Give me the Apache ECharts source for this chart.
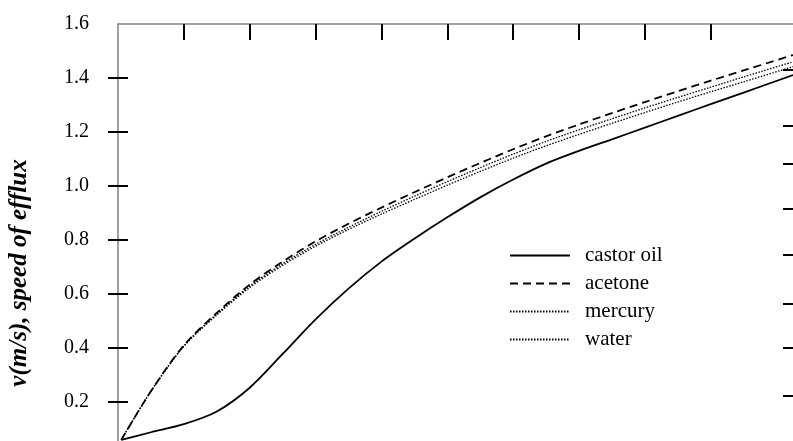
<!DOCTYPE html>
<html>
<head>
<meta charset="utf-8">
<script src="https://cdn.jsdelivr.net/npm/echarts@6/dist/echarts.min.js"></script>
<style>
  html, body { margin: 0; padding: 0; background: #fff; }
  #chart { width: 793px; height: 441px; }
</style>
</head>
<body>
<div id="chart"></div>
<script>
// x position (arbitrary units, top axis ticks at 1..9)
var xs = [0.05, 0.5, 1, 1.5, 2, 2.5, 3, 3.5, 4, 4.5, 5, 5.5, 6, 6.5, 7, 7.5, 8, 8.5, 9, 9.5, 10.25];

var castorOil = [0.06, 0.088, 0.118, 0.165, 0.253, 0.378, 0.506, 0.62, 0.72, 0.805, 0.884, 0.958, 1.024, 1.083, 1.130, 1.173, 1.216, 1.26, 1.303, 1.346, 1.411];
var acetone   = [0.06, 0.24, 0.41, 0.53, 0.635, 0.72, 0.795, 0.86, 0.92, 0.977, 1.032, 1.085, 1.136, 1.184, 1.228, 1.270, 1.311, 1.351, 1.390, 1.428, 1.485];
var mercury   = [0.06, 0.24, 0.408, 0.526, 0.629, 0.712, 0.784, 0.847, 0.906, 0.962, 1.016, 1.068, 1.118, 1.165, 1.208, 1.249, 1.289, 1.328, 1.366, 1.404, 1.460];
var water     = [0.06, 0.24, 0.406, 0.522, 0.624, 0.706, 0.777, 0.839, 0.896, 0.950, 1.003, 1.054, 1.103, 1.149, 1.191, 1.232, 1.272, 1.311, 1.349, 1.386, 1.442];

var seriesNames = ['castor oil', 'acetone', 'mercury', 'water'];
var yTicks = [0.2, 0.4, 0.6, 0.8, 1.0, 1.2, 1.4];
var yLabels = [0.2, 0.4, 0.6, 0.8, 1.0, 1.2, 1.4, 1.6];
var topTicks = [1, 2, 3, 4, 5, 6, 7, 8, 9];
var rightTicks = [0.223, 0.401, 0.564, 0.747, 0.915, 1.084, 1.223, 1.432];
// the picture is cut off a little above v = 0
var yMin = 0.0556, yMax = 1.6;

function pairs(ys) {
  return xs.map(function (x, i) { return [x, ys[i]]; });
}

var serif = '"Liberation Serif", "Times New Roman", serif';
var chart = echarts.init(document.getElementById('chart'));

chart.setOption({
  animation: false,
  backgroundColor: '#fff',
  grid: { left: 118, right: 0, top: 24, bottom: 0 },
  xAxis: {
    type: 'value',
    position: 'top',
    min: 0,
    max: 10.25,
    axisLine: { show: true, onZero: false, lineStyle: { color: '#808080', width: 1.5 } },
    axisTick: { show: true, inside: true, length: 16, customValues: topTicks, lineStyle: { color: '#000', width: 2 } },
    axisLabel: { show: false },
    splitLine: { show: false }
  },
  yAxis: [
    {
      type: 'value',
      position: 'left',
      min: yMin,
      max: yMax,
      axisLine: { show: true, onZero: false, lineStyle: { color: '#808080', width: 1.5 } },
      axisTick: { show: true, inside: false, length: 10, customValues: yTicks, lineStyle: { color: '#000', width: 2 } },
      axisLabel: {
        show: true, margin: 29, customValues: yLabels,
        fontFamily: serif, fontSize: 20, color: '#000',
        formatter: function (v) { return v.toFixed(1); }
      },
      splitLine: { show: false }
    },
    {
      type: 'value',
      position: 'left',
      min: yMin,
      max: yMax,
      axisLine: { show: false, onZero: false },
      axisTick: { show: true, inside: true, length: 10, customValues: yTicks, lineStyle: { color: '#000', width: 2 } },
      axisLabel: { show: false },
      splitLine: { show: false }
    },
    {
      type: 'value',
      position: 'right',
      min: yMin,
      max: yMax,
      axisLine: { show: false, onZero: false },
      axisTick: { show: true, inside: true, length: 10, customValues: rightTicks, lineStyle: { color: '#000', width: 2 } },
      axisLabel: { show: false },
      splitLine: { show: false }
    }
  ],
  legend: {
    orient: 'vertical',
    left: 504,
    top: 240,
    itemWidth: 60,
    itemHeight: 14,
    itemGap: 7,
    data: seriesNames,
    itemStyle: { opacity: 0 },
    textStyle: { fontFamily: serif, fontSize: 21, color: '#000', padding: [0, 0, 0, 10] }
  },
  graphic: [
    {
      type: 'text',
      x: 20,
      y: 273,
      rotation: Math.PI / 2,
      style: {
        text: 'v(m/s), speed of efflux',
        font: 'italic bold 25px ' + serif,
        fill: '#000',
        align: 'center',
        verticalAlign: 'middle'
      }
    }
  ],
  series: [
    {
      name: 'castor oil', type: 'line', smooth: 0.3, symbol: 'none',
      lineStyle: { color: '#000', width: 1.8, type: 'solid' },
      itemStyle: { color: '#000' },
      data: pairs(castorOil)
    },
    {
      name: 'acetone', type: 'line', smooth: 0.3, symbol: 'none',
      lineStyle: { color: '#000', width: 1.8, type: [8, 5] },
      itemStyle: { color: '#000' },
      data: pairs(acetone)
    },
    {
      name: 'mercury', type: 'line', smooth: 0.3, symbol: 'none',
      lineStyle: { color: '#000', width: 1.3, type: [1.5, 1.5] },
      itemStyle: { color: '#000' },
      data: pairs(mercury)
    },
    {
      name: 'water', type: 'line', smooth: 0.3, symbol: 'none',
      lineStyle: { color: '#000', width: 1.3, type: [1.5, 1.5] },
      itemStyle: { color: '#000' },
      data: pairs(water)
    }
  ]
});
</script>
</body>
</html>
